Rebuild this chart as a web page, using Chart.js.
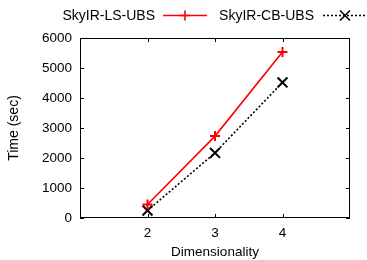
<!DOCTYPE html>
<html>
<head>
<meta charset="utf-8">
<script src="https://cdn.jsdelivr.net/npm/chart.js@4/dist/chart.umd.min.js"></script>
<style>
  html, body { margin: 0; padding: 0; background: #fff; }
  #wrap { width: 367px; height: 260px; }
</style>
</head>
<body>
<div id="wrap"><canvas id="myChart" width="367" height="260"></canvas></div>
<script>
// data
let dims = [2, 3, 4];
let lsUbs = [450, 2730, 5530];
let cbUbs = [250, 2170, 4520];
let seriesNames = ['SkyIR-LS-UBS', 'SkyIR-CB-UBS'];
let xTicks = [2, 3, 4];
let yTicks = [0, 1000, 2000, 3000, 4000, 5000, 6000];

const FONT = "'Liberation Sans', Arial, sans-serif";

function points(ys) {
    return dims.map((d, i) => ({ x: d, y: ys[i] }));
}

// gnuplot style: box border, inward mirrored ticks, legend text before sample
const framePlugin = {
    id: 'frame',
    afterDraw(chart) {
        const c = chart.ctx;
        const a = chart.chartArea;
        const xs = chart.scales.x, ys = chart.scales.y;
        const len = 4;
        c.save();
        c.strokeStyle = '#000';
        c.lineWidth = 1;
        c.strokeRect(a.left + 0.5, a.top + 0.5, a.right - a.left - 1, a.bottom - a.top - 1);
        c.beginPath();
        xTicks.forEach(v => {
            let px = Math.round(xs.getPixelForValue(v)) + 0.5;
            c.moveTo(px, a.bottom); c.lineTo(px, a.bottom - len);
            c.moveTo(px, a.top); c.lineTo(px, a.top + len);
        });
        yTicks.forEach(v => {
            let py = Math.round(ys.getPixelForValue(v)) + 0.5;
            c.moveTo(a.left, py); c.lineTo(a.left + len, py);
            c.moveTo(a.right, py); c.lineTo(a.right - len, py);
        });
        c.stroke();

        // legend
        c.font = '14px ' + FONT;
        c.textBaseline = 'middle';
        c.textAlign = 'right';
        const ly = 15.5;
        const entries = [
            { textRight: 155, lineFrom: 163, lineTo: 207 },
            { textRight: 314, lineFrom: 323, lineTo: 367 }
        ];
        chart.data.datasets.forEach((ds, i) => {
            const e = entries[i];
            c.fillStyle = '#000';
            c.fillText(ds.label, e.textRight, ly + 1);
            c.strokeStyle = ds.borderColor;
            c.lineWidth = ds.borderWidth;
            c.setLineDash(ds.borderDash || []);
            c.beginPath();
            c.moveTo(e.lineFrom, ly); c.lineTo(e.lineTo, ly);
            c.stroke();
            c.setLineDash([]);
            Chart.helpers.drawPoint(c, {
                pointStyle: ds.pointStyle,
                radius: ds.pointRadius,
                borderWidth: ds.pointBorderWidth,
                rotation: 0
            }, (e.lineFrom + e.lineTo) / 2, ly);
        });
        c.restore();
    }
};

let ctx = document.getElementById('myChart').getContext('2d');

let myChart = new Chart(ctx, {
    type: 'line',
    data: {
        datasets: [
            {
                label: seriesNames[0],
                data: points(lsUbs),
                borderColor: '#ff0000',
                backgroundColor: '#ff0000',
                borderWidth: 1.6,
                pointStyle: 'cross',
                pointRadius: 5,
                pointBorderWidth: 2,
                pointBorderColor: '#ff0000',
                fill: false,
                tension: 0
            },
            {
                label: seriesNames[1],
                data: points(cbUbs),
                borderColor: '#000000',
                backgroundColor: '#000000',
                borderWidth: 1.6,
                borderDash: [2, 2],
                pointStyle: 'crossRot',
                pointRadius: 7,
                pointBorderWidth: 2,
                pointBorderColor: '#000000',
                fill: false,
                tension: 0
            }
        ]
    },
    options: {
        responsive: false,
        animation: false,
        devicePixelRatio: 1,
        layout: { padding: { left: 0, right: 17, top: 38, bottom: 0 } },
        plugins: {
            legend: { display: false },
            tooltip: { enabled: false }
        },
        scales: {
            x: {
                type: 'linear',
                min: 1,
                max: 5,
                afterBuildTicks(scale) { scale.ticks = xTicks.map(v => ({ value: v })); },
                afterFit(scale) { scale.height = 42; },
                grid: { display: false, drawTicks: false },
                border: { display: false },
                ticks: {
                    color: '#000',
                    font: { family: FONT, size: 13.5 },
                    padding: 7,
                    callback: v => String(v)
                },
                title: {
                    display: true,
                    text: 'Dimensionality',
                    color: '#000',
                    font: { family: FONT, size: 13.5 },
                    padding: { top: 0, bottom: 0 }
                }
            },
            y: {
                min: 0,
                max: 6000,
                afterBuildTicks(scale) { scale.ticks = yTicks.map(v => ({ value: v })); },
                afterFit(scale) { scale.width = 80; },
                grid: { display: false, drawTicks: false },
                border: { display: false },
                ticks: {
                    color: '#000',
                    font: { family: FONT, size: 13.5 },
                    padding: 8,
                    callback: v => String(v)
                },
                title: {
                    display: true,
                    text: 'Time (sec)',
                    color: '#000',
                    font: { family: FONT, size: 14 },
                    padding: { top: 6, bottom: 0 }
                }
            }
        }
    },
    plugins: [framePlugin]
});
</script>
</body>
</html>
